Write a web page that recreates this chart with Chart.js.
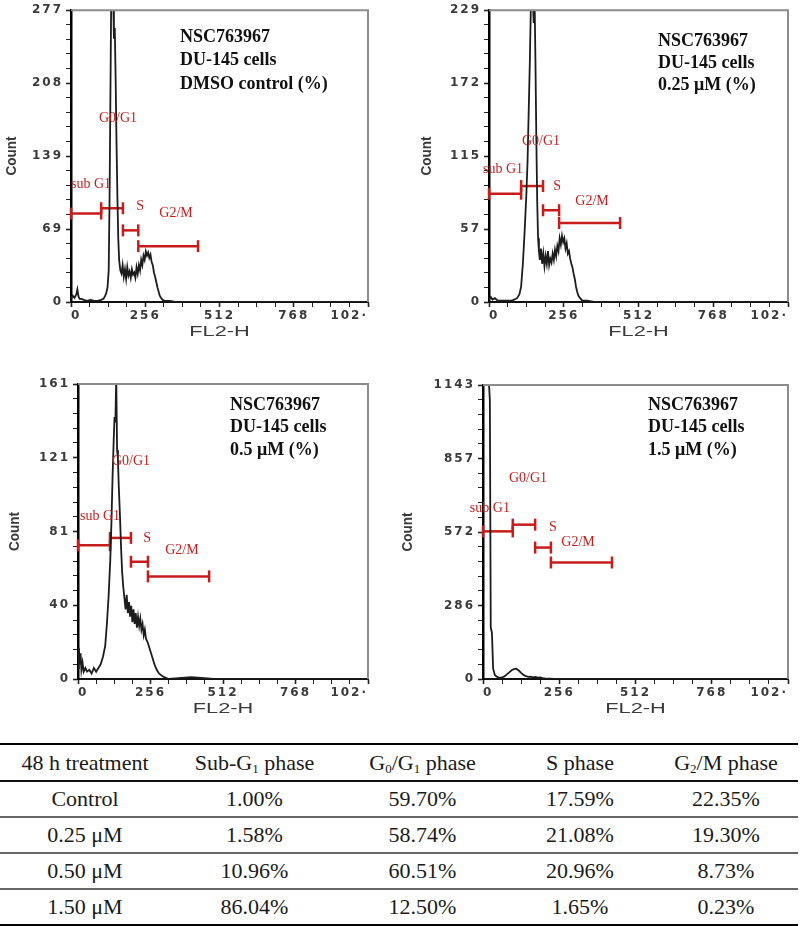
<!DOCTYPE html>
<html>
<head>
<meta charset="utf-8">
<script src="https://cdn.jsdelivr.net/npm/chart.js@4.4.0/dist/chart.umd.min.js"></script>
<style>
  html, body { margin: 0; padding: 0; background: #fff; }
  body { width: 803px; height: 926px; position: relative; overflow: hidden; }
  canvas { position: absolute; }
  #tbl {
    position: absolute; left: 0; top: 743px; width: 798px;
    border-collapse: collapse; table-layout: fixed;
    font-family: 'Liberation Serif', 'Times New Roman', serif;
    font-size: 22px; color: #1a1a1a;
  }
  #tbl th, #tbl td { text-align: center; font-weight: normal; padding: 0; }
  #tbl thead tr { height: 37px; }
  #tbl tbody tr { height: 36px; }
  #tbl thead th { border-top: 2px solid #000; border-bottom: 2px solid #111; }
  #tbl tbody td { border-bottom: 2px solid #666; }
  #tbl tbody tr:last-child td { border-bottom: 2px solid #000; }
  #tbl sub { font-size: 13px; vertical-align: -3px; line-height: 0; }
</style>
</head>
<body>
<canvas id="p1" width="400" height="345" style="left:0;top:0"></canvas>
<canvas id="p2" width="403" height="345" style="left:400px;top:0"></canvas>
<canvas id="p3" width="400" height="380" style="left:0;top:345px"></canvas>
<canvas id="p4" width="403" height="380" style="left:400px;top:345px"></canvas>

<table id="tbl">
  <colgroup>
    <col style="width:170px"><col style="width:169px"><col style="width:167px"><col style="width:148px"><col style="width:144px">
  </colgroup>
  <thead><tr></tr></thead>
  <tbody></tbody>
</table>

<script>
// x axis (FL2-H channel)
const xTickValues = [0, 256, 512, 768, 1024];
const xTickLabels = ['0', '256', '512', '768', '102·'];
const gateNames = ['sub G1', 'G0/G1', 'S', 'G2/M'];

// DMSO control
const ctrlChannels = [0,6,12,18,22,26,30,36,44,56,68,80,92,104,112,118,122,126,130,133,136,139,142,145,148,151,154,157,160,163,166,170,174,178,182,186,190,194,198,202,206,210,214,218,222,226,230,234,238,242,246,250,254,258,262,266,270,274,278,282,286,290,294,298,302,306,310,316,324,340,360,1024];
const ctrlCounts = [3,6,4,7,12,5,3,3,2,1,2,1,1,2,3,6,9,14,30,100,200,300,300,300,250,260,210,150,100,60,40,30,27,35,24,31,22,33,25,29,23,31,26,28,23,33,27,35,30,40,35,44,40,48,44,47,42,45,38,35,28,24,19,14,10,6,4,2,1,1,0,0];
const ctrlYTicks = ['0', '69', '139', '208', '277'];
const ctrlGates = [[0, 104, 84], [104, 179, 89], [179, 232, 68], [232, 438, 53]];

// 0.25 uM
const dose025Channels = [0,6,12,20,30,44,60,76,88,96,104,110,116,122,128,132,136,140,144,147,150,153,156,159,162,165,168,171,174,178,182,186,190,194,198,202,206,210,214,218,222,226,230,234,238,242,246,250,254,258,262,266,270,274,278,282,286,290,294,298,302,306,312,320,336,360,1024];
const dose025Counts = [2,4,2,3,1,1,1,1,2,3,6,12,30,55,85,110,150,190,240,240,240,219,240,190,130,80,50,40,33,42,30,38,28,36,30,40,29,34,31,38,33,41,36,44,40,50,45,52,47,50,42,46,38,40,34,30,27,22,18,12,8,5,3,1,1,0,0];
const dose025YTicks = ['0', '57', '115', '172', '229'];
const dose025Gates = [[0, 110, 85], [110, 185, 91], [185, 240, 72], [240, 449, 62]];

// 0.5 uM
const dose05Channels = [0,3,6,9,12,16,20,26,32,40,48,56,64,72,80,88,96,102,108,114,118,122,126,129,132,135,138,141,144,148,152,156,160,164,168,172,176,180,184,188,192,196,200,204,208,212,216,220,224,228,232,236,240,246,252,258,264,270,278,286,294,304,320,400,480,1024];
const dose05Counts = [6,17,8,14,5,9,4,6,4,5,3,6,4,6,8,12,18,30,45,65,85,110,130,143,140,165,125,120,105,90,72,58,50,44,38,46,36,42,34,40,31,38,30,36,28,34,29,33,27,30,24,27,22,20,17,14,11,8,5,3,2,1,0,1,0,0];
const dose05YTicks = ['0', '40', '81', '121', '161'];
const dose05Gates = [[0, 113, 73], [113, 187, 77], [187, 247, 64], [247, 463, 56]];

// 1.5 uM
const dose15Channels = [0,4,8,12,16,20,23,26,30,34,40,48,56,64,72,80,88,96,104,112,120,128,136,144,152,160,168,176,184,192,200,208,224,240,1024];
const dose15Counts = [1300,1300,1300,1300,1300,1150,1085,200,180,40,15,8,4,6,10,18,26,34,38,40,33,24,16,11,8,9,6,8,5,6,3,2,1,0,0];
const dose15YTicks = ['0', '286', '572', '857', '1143'];
const dose15Gates = [[0, 100, 574], [100, 175, 600], [175, 228, 511], [228, 433, 453]];

// table
const tableHeaders = ['48 h treatment', 'Sub-G<sub>1</sub> phase', 'G<sub>0</sub>/G<sub>1</sub> phase', 'S phase', 'G<sub>2</sub>/M phase'];
const treatments = ['Control', '0.25 μM', '0.50 μM', '1.50 μM'];
const subG1Pct = [1.00, 1.58, 10.96, 86.04];
const g0g1Pct = [59.70, 58.74, 60.51, 12.50];
const sPhasePct = [17.59, 21.08, 20.96, 1.65];
const g2mPct = [22.35, 19.30, 8.73, 0.23];

const RED = '#c81c1c';
const AXIS_TEXT = '#3a3a3a';

const panels = [
  { id: 'p1', channels: ctrlChannels, counts: ctrlCounts, yLabels: ctrlYTicks, gates: ctrlGates,
    title: ['NSC763967', 'DU-145 cells', 'DMSO control (%)'],
    area: { l: 71, t: 8, r: 368, b: 302 }, countX: 12, textDx: 109, textDy: [27, 50, 74],
    labelAt: [[69, 112], [162, 174], [238, 91], [362, 84]] },
  { id: 'p2', channels: dose025Channels, counts: dose025Counts, yLabels: dose025YTicks, gates: dose025Gates,
    title: ['NSC763967', 'DU-145 cells', '0.25 μM (%)'],
    area: { l: 89, t: 8, r: 388, b: 302 }, countX: 27, textDx: 169, textDy: [31, 53, 75],
    labelAt: [[48, 104], [178, 126], [233, 91], [353, 79]] },
  { id: 'p3', channels: dose05Channels, counts: dose05Counts, yLabels: dose05YTicks, gates: dose05Gates,
    title: ['NSC763967', 'DU-145 cells', '0.5 μM (%)'],
    area: { l: 78, t: 39, r: 368, b: 334 }, countX: 15, textDx: 152, textDy: [21, 43, 66],
    labelAt: [[78, 89], [187, 119], [244, 77], [367, 70]] },
  { id: 'p4', channels: dose15Channels, counts: dose15Counts, yLabels: dose15YTicks, gates: dose15Gates,
    title: ['NSC763967', 'DU-145 cells', '1.5 μM (%)'],
    area: { l: 83, t: 40, r: 388, b: 334 }, countX: 8, textDx: 165, textDy: [20, 42, 65],
    labelAt: [[23, 663], [151, 780], [235, 589], [319, 531]] }
];

// frame, gate labels, sample text and axis titles
function decor(p) {
  return {
    id: 'decor',
    beforeDraw(chart) { chart.ctx.letterSpacing = '2px'; },
    afterDraw(chart) {
      const { ctx, chartArea: a, scales: { x, y } } = chart;
      ctx.save();
      ctx.letterSpacing = '0px';
      ctx.strokeStyle = '#8c8c8c';
      ctx.lineWidth = 2;
      ctx.beginPath();
      ctx.moveTo(a.left, a.top);
      ctx.lineTo(a.right, a.top);
      ctx.lineTo(a.right, a.bottom);
      ctx.stroke();

      ctx.fillStyle = RED;
      ctx.font = '14px "Liberation Serif"';
      ctx.textAlign = 'center';
      ctx.textBaseline = 'middle';
      gateNames.forEach((n, i) => {
        ctx.fillText(n, x.getPixelForValue(p.labelAt[i][0]), y.getPixelForValue(p.labelAt[i][1]));
      });

      ctx.fillStyle = '#111';
      ctx.font = 'bold 18px "Liberation Serif"';
      ctx.textAlign = 'left';
      p.title.forEach((t, i) => ctx.fillText(t, a.left + p.textDx, a.top + p.textDy[i]));

      ctx.fillStyle = AXIS_TEXT;
      ctx.save();
      ctx.translate((a.left + a.right) / 2, a.bottom + 30);
      ctx.scale(1.45, 1);
      ctx.font = '15px "Liberation Sans"';
      ctx.textAlign = 'center';
      ctx.fillText('FL2-H', 0, 0);
      ctx.restore();

      ctx.save();
      ctx.translate(p.countX, (a.top + a.bottom) / 2);
      ctx.rotate(-Math.PI / 2);
      ctx.scale(0.9, 1);
      ctx.font = 'bold 15px "Liberation Sans"';
      ctx.textAlign = 'center';
      ctx.fillText('Count', 0, 0);
      ctx.restore();
      ctx.restore();
    }
  };
}

function makePanel(p) {
  const canvas = document.getElementById(p.id);
  const W = canvas.width, H = canvas.height;
  const yMax = Number(p.yLabels[p.yLabels.length - 1]);

  const xTicks = [];
  for (let v = 0; v <= 1024; v += 64) xTicks.push(v);
  const yTicks = [];
  for (let k = 0; k <= 20; k++) yTicks.push(yMax * k / 20);

  const datasets = [{
    data: p.channels.map((c, i) => ({ x: c, y: p.counts[i] })),
    borderColor: '#1c1c1c',
    borderWidth: 1.8,
    pointRadius: 0,
    tension: 0,
    fill: false
  }];
  p.gates.forEach(g => datasets.push({
    data: [{ x: g[0], y: g[2] }, { x: g[1], y: g[2] }],
    borderColor: RED,
    borderWidth: 2.5,
    pointStyle: 'line',
    pointRotation: 90,
    pointRadius: 6,
    pointBorderColor: RED,
    pointBorderWidth: 2.5,
    clip: false
  }));

  new Chart(canvas, {
    type: 'line',
    data: { datasets },
    options: {
      responsive: false,
      animation: false,
      events: [],
      layout: { padding: { left: 0, top: p.area.t, right: W - p.area.r, bottom: 0 } },
      plugins: { legend: { display: false }, tooltip: { enabled: false } },
      scales: {
        x: {
          type: 'linear', min: 0, max: 1024,
          afterFit: s => { s.height = H - p.area.b; },
          afterBuildTicks: s => { s.ticks = xTicks.map(v => ({ value: v })); },
          ticks: {
            autoSkip: false, maxRotation: 0, align: 'inner', padding: 2, color: AXIS_TEXT,
            font: { family: 'DejaVu Sans', size: 12, weight: 'bold' },
            callback: (v, i) => (i % 4 === 0 ? xTickLabels[i / 4] : '')
          },
          grid: { drawOnChartArea: false, tickLength: 5, tickColor: '#222',
            tickWidth: c => (c.index % 4 === 0 ? 1.6 : 1) },
          border: { color: '#111', width: 2 }
        },
        y: {
          type: 'linear', min: 0, max: yMax,
          afterFit: s => { s.width = p.area.l; },
          afterBuildTicks: s => { s.ticks = yTicks.map(v => ({ value: v })); },
          ticks: {
            autoSkip: false, padding: 3, color: AXIS_TEXT,
            font: { family: 'DejaVu Sans', size: 12, weight: 'bold' },
            callback: (v, i) => (i % 5 === 0 ? p.yLabels[i / 5] : '')
          },
          grid: { drawOnChartArea: false, tickLength: 5, tickColor: '#222',
            tickWidth: c => (c.index % 5 === 0 ? 1.6 : 1) },
          border: { color: '#000', width: 2.5 }
        }
      }
    },
    plugins: [decor(p)]
  });
}

panels.forEach(makePanel);

// results table
const headRow = document.querySelector('#tbl thead tr');
tableHeaders.forEach(h => {
  const th = document.createElement('th');
  th.innerHTML = h;
  headRow.appendChild(th);
});
const body = document.querySelector('#tbl tbody');
treatments.forEach((t, i) => {
  const tr = document.createElement('tr');
  [t, subG1Pct[i], g0g1Pct[i], sPhasePct[i], g2mPct[i]].forEach((v, j) => {
    const td = document.createElement('td');
    td.textContent = j === 0 ? v : v.toFixed(2) + '%';
    tr.appendChild(td);
  });
  body.appendChild(tr);
});
</script>
</body>
</html>
